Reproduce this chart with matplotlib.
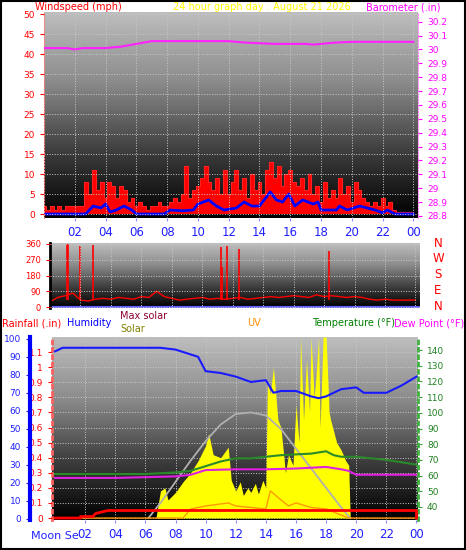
import numpy as np
import matplotlib
matplotlib.use("Agg")
import matplotlib.pyplot as plt
from matplotlib.colors import LinearSegmentedColormap

# ---- data ----
gust_t = np.arange(0, 24.01, 0.25)
gust = [2, 1, 2, 1, 2, 1, 2, 2, 2, 2, 2, 8,
        5, 11, 6, 8, 4, 8, 7, 4, 7, 6, 3, 4,
        2, 3, 2, 1, 2, 2, 3, 2, 2, 3, 4, 3,
        5, 12, 4, 6, 7, 9, 12, 8, 6, 9, 5, 11,
        5, 8, 11, 6, 9, 4, 10, 6, 8, 5, 11, 13,
        9, 12, 7, 10, 11, 8, 7, 9, 6, 10, 5, 7,
        3, 8, 4, 6, 4, 9, 5, 7, 3, 8, 6, 4,
        3, 2, 3, 2, 4, 2, 3, 1, 0.5, 0.5, 0.5, 0.5, 0.5]
avg_t = [0, 2.7, 3.2, 3.7, 4.0, 4.3, 4.7, 5.2, 5.7, 6.0, 7.8, 8.2, 9.0, 9.7, 10.0, 10.7, 11.2,
         11.7, 12.5, 13.0, 13.5, 14.0, 14.7, 15.1, 15.5, 15.9, 16.3, 16.8, 17.5, 17.8, 18.0,
         19.0, 19.2, 19.7, 20.5, 21.5, 22.0, 22.3, 22.8, 24.0]
avg = [0, 0, 2, 1.5, 2.5, 0.5, 1, 2, 1, 0, 0, 1, 0.8, 1, 2.5, 3.5, 2,
       1, 1.5, 3, 2, 2, 5.5, 3.5, 3, 5, 2, 3.5, 2.5, 3, 1,
       1, 2, 1, 2, 1, 0.3, 1, 0, 0]
baro_t = [0, 1.5, 2, 2.5, 4, 5, 6.5, 7, 12, 13, 15, 17, 17.5, 19, 20, 24]
baro = [30.01, 30.01, 30.0, 30.01, 30.01, 30.02, 30.05, 30.06, 30.06, 30.05, 30.04, 30.04,
        30.035, 30.05, 30.055, 30.055]

dir_t = np.arange(0, 24.01, 0.5)
wind_dir = [30, 55, 65, 80, 40, 35, 45, 50, 45, 55, 50, 45, 60, 55, 90, 60,
            50, 40, 45, 50, 55, 45, 50, 45, 50, 55, 45, 50, 55, 60, 55, 60,
            65, 60, 55, 70, 60, 65, 60, 55, 60, 55, 45, 40, 45, 40, 40, 40, 40]
spike_t = [1.1, 1.2, 2.0, 2.8, 11.2, 11.3, 11.6, 12.4, 18.3]
spike_h = [360, 360, 350, 355, 345, 230, 350, 330, 320]

hum_t = [0, 0.5, 7, 8, 9.5, 10, 11, 12, 13, 14, 14.5, 15, 16, 17, 17.5, 18, 19, 20, 20.5, 22, 23, 24]
hum = [93, 95, 95, 94, 90, 82, 81, 79, 76, 77, 70, 71, 71, 68, 67, 68, 72, 73, 70, 70, 74, 79]
temp_t = [0, 6, 8, 9, 10, 11, 12, 13, 14, 15, 16, 17, 18, 18.5, 19, 20, 22, 24]
temp = [61, 61, 62, 63, 66, 69, 71, 71, 72, 73, 73.5, 74, 75.5, 73, 72, 72, 70, 67]
dew_t = [0, 4, 6, 8, 9, 10, 12, 14, 16, 18, 19, 19.5, 20, 24]
dew = [58.5, 58.5, 59, 59.5, 60.5, 63.5, 64, 64, 64.5, 65.5, 64, 63, 60.5, 60.5]
rain_t = [0, 1.7, 1.7, 2.5, 2.7, 3.5, 24, 24]
rain = [0, 0, 0.01, 0.01, 0.03, 0.05, 0.05, 0]
maxsol_t = [6.2, 7, 8, 9, 10, 11, 12, 13, 14, 15, 16, 17, 18, 19, 19.6]
maxsol = [0, 100, 240, 380, 510, 620, 690, 700, 680, 590, 460, 330, 200, 70, 0]
sol_t = [6.7, 7.0, 7.3, 7.5, 8.0, 8.5, 9.0, 9.5, 10.0, 10.2, 10.5, 11.0, 11.5, 11.7, 12.0,
         12.3, 12.5, 12.8, 13.0, 13.3, 13.5, 13.8, 14.0, 14.1, 14.3, 14.5, 14.8, 15.0, 15.3,
         15.5, 15.8, 16.0, 16.2, 16.3, 16.5, 16.7, 16.9, 17.0, 17.2, 17.3, 17.5, 17.6, 17.8,
         18.0, 18.2, 18.3, 18.7, 19.0, 19.3, 19.5, 19.6]
sol = [0, 180, 200, 120, 170, 240, 300, 380, 480, 560, 420, 400, 470, 250, 180,
       240, 150, 200, 170, 230, 160, 250, 200, 900, 820, 1000, 650, 600, 300,
       420, 350, 750, 500, 1200, 650, 1050, 700, 1200, 800, 900, 1200, 600, 1200,
       1200, 700, 650, 500, 450, 380, 350, 0]
uv_t = [0, 8.5, 9, 10, 11.5, 12, 13, 14, 14.3, 15, 15.5, 16, 17, 18, 19, 19.5, 24]
uv = [0, 0, 0.6, 0.8, 1.0, 0.8, 0.7, 0.6, 1.8, 1.2, 0.8, 1.0, 0.7, 0.6, 0.2, 0, 0]
hours = [2, 4, 6, 8, 10, 12, 14, 16, 18, 20, 22, 24]
hour_labels = ["02", "04", "06", "08", "10", "12", "14", "16", "18", "20", "22", "00"]

W, H = 466, 550
fig = plt.figure(figsize=(W / 100, H / 100), dpi=100)
fig.patch.set_facecolor("white")
fig.add_artist(plt.Rectangle((0.002, 0.002), 0.996, 0.996, fill=False, ec="black", lw=1.5,
                             transform=fig.transFigure))
cmap = LinearSegmentedColormap.from_list("g", ["#000000", "#404040", "#8c8c8c", "#bdbdbd"])


def px_axes(l, t, r, b):
    return fig.add_axes([l / W, 1 - b / H, (r - l) / W, (b - t) / H])


def style(ax, col):
    ax.imshow(np.linspace(0, 1, 100)[:, None], aspect="auto", cmap=cmap, origin="lower",
              extent=[0, 1, 0, 1], transform=ax.transAxes, zorder=0)
    ax.grid(True, color="#c8c8c8", ls=":", lw=0.7)
    ax.set_axisbelow(False)
    for s in ax.spines.values():
        s.set_visible(False)
    ax.tick_params(axis="y", colors=col, labelcolor=col, labelsize=6.5, length=3)
    ax.tick_params(axis="x", colors="#8888ff", labelcolor="#2020ff", labelsize=8.5, length=2)


# ---- top panel: wind speed + barometer ----
ax1 = px_axes(44, 12, 418, 218)
style(ax1, "red")
ax1.fill_between(gust_t, gust, step="mid", color="red", lw=0)
ax1.plot(gust_t, gust, drawstyle="steps-mid", color="#ff2020", lw=0.8)
ax1.plot(avg_t, avg, color="blue", lw=2)
ax1.set_xlim(0, 24.3)
ax1.set_ylim(-1, 50.5)
ax1.set_yticks(range(0, 51, 5))
ax1.set_xticks(hours)
ax1.set_xticklabels(hour_labels)
ax1.spines["left"].set_visible(True)
ax1.spines["left"].set_color("#ff8080")
ax1.spines["left"].set_linestyle(":")
ax1b = ax1.twinx()
ax1b.plot(baro_t, baro, color="#ff20ff", lw=1.5)
ax1b.set_ylim(28.785, 30.27)
ax1b.set_yticks(np.round(np.arange(28.8, 30.21, 0.1), 1))
ax1b.set_yticklabels([f"{v:g}" for v in np.round(np.arange(28.8, 30.21, 0.1), 1)])
ax1b.tick_params(colors="#ff00ff", labelsize=6.5, length=3)
for s in ax1b.spines.values():
    s.set_visible(False)
ax1b.spines["right"].set_visible(True)
ax1b.spines["right"].set_color("#ff80ff")
ax1b.spines["right"].set_linestyle(":")
fig.text(35 / W, 1 - 7 / H, "Windspeed (mph)", color="red", fontsize=7, va="center")
fig.text(262 / W, 1 - 7 / H, "24 hour graph day : August 21 2026", color="yellow", fontsize=7,
         va="center", ha="center")
fig.text(440 / W, 1 - 7 / H, "Barometer (.in)", color="#ff00ff", fontsize=7, va="center",
         ha="right")

# ---- middle panel: wind direction ----
ax2 = px_axes(50, 243, 420, 308)
style(ax2, "red")
ax2.plot(dir_t, wind_dir, color="red", lw=1)
ax2.vlines(spike_t, 40, spike_h, color="red", lw=1.2)
ax2.axhline(0, color="#6060ff", lw=1.5)
ax2.set_xlim(0, 24.3)
ax2.set_ylim(-5, 365)
ax2.set_yticks([0, 90, 180, 270, 360])
ax2.tick_params(axis="y", labelsize=6)
ax2.set_xticks(hours)
ax2.set_xticklabels([])
ax2.tick_params(axis="x", length=0)
ax2.spines["left"].set_visible(True)
ax2.spines["left"].set_color("black")
ax2.spines["left"].set_linewidth(2)
for i, lab in enumerate(["N", "W", "S", "E", "N"]):
    fig.text(438 / W, 1 - (243 + i * 16) / H, lab, color="red", fontsize=8.5, ha="center",
             va="center")

# ---- bottom panel ----
ax3 = px_axes(52, 337, 418, 520)
style(ax3, "red")
ax3.set_xlim(-0.2, 24.1)
axs = ax3.twinx()
axs.set_ylim(-13, 1200)
axs.fill_between(sol_t, sol, color="yellow", lw=0, zorder=1)
axs.plot(maxsol_t, maxsol, color="#b0b0b0", lw=1.3, zorder=2)
axs.axis("off")
axt = ax3.twinx()
axt.plot(temp_t, temp, color="#2a8a2a", lw=1.5)
axt.plot(dew_t, dew, color="#e020e0", lw=1.5)
axt.set_ylim(31.7, 148.3)
axt.set_yticks(range(40, 141, 10))
axt.tick_params(colors="#40a040", labelcolor="#208020", labelsize=6.5, length=3)
for s in axt.spines.values():
    s.set_visible(False)
axt.spines["right"].set_visible(True)
axt.spines["right"].set_color("#40b040")
axt.spines["right"].set_linestyle(":")
axt.spines["right"].set_linewidth(2)
axu = ax3.twinx()
axu.plot(uv_t, uv, color="#ff9900", lw=1)
axu.set_ylim(-0.13, 12)
axu.axis("off")
axr = ax3.twinx()
axr.plot(rain_t, rain, color="red", lw=2)
axr.set_ylim(-0.013, 1.2)
axr.axis("off")
ax3.set_ylim(-0.013, 1.2)
ax3.set_yticks(np.round(np.arange(0, 1.11, 0.1), 1))
ax3.set_yticklabels([f"{v:g}" for v in np.round(np.arange(0, 1.11, 0.1), 1)])
ax3.spines["left"].set_visible(True)
ax3.spines["left"].set_color("#ff6060")
ax3.spines["left"].set_linestyle(":")
ax3.spines["left"].set_linewidth(2)
ax3.set_xticks(hours)
ax3.set_xticklabels(hour_labels)
axh = ax3.twinx()
axh.plot(hum_t, hum, color="#1a1aff", lw=1.5)
axh.set_ylim(-0.7, 101)
axh.yaxis.set_ticks_position("left")
axh.yaxis.set_label_position("left")
axh.set_yticks(range(0, 101, 10))
axh.tick_params(colors="#2020ff", labelsize=6.5, length=3)
for s in axh.spines.values():
    s.set_visible(False)
axh.spines["left"].set_visible(True)
axh.spines["left"].set_position(("axes", (30 - 52) / 366))
axh.spines["left"].set_color("blue")
axh.spines["left"].set_linewidth(3)
fig.text(31 / W, 1 - 536 / H, "Moon Se", color="#2020ff", fontsize=8, va="center")

fig.text(2 / W, 1 - 323 / H, "Rainfall (.in)", color="red", fontsize=7, va="center")
fig.text(67 / W, 1 - 323 / H, "Humidity", color="blue", fontsize=7, va="center")
fig.text(120 / W, 1 - 316 / H, "Max solar", color="#900030", fontsize=7, va="center")
fig.text(120 / W, 1 - 329 / H, "Solar", color="#808000", fontsize=7, va="center")
fig.text(247 / W, 1 - 323 / H, "UV", color="#ff8c00", fontsize=7, va="center")
fig.text(312 / W, 1 - 323 / H, "Temperature (°F)", color="green", fontsize=7, va="center")
fig.text(394 / W, 1 - 323 / H, "Dew Point (°F)", color="#ff00ff", fontsize=7, va="center")

fig.savefig("out.png", dpi=100)
